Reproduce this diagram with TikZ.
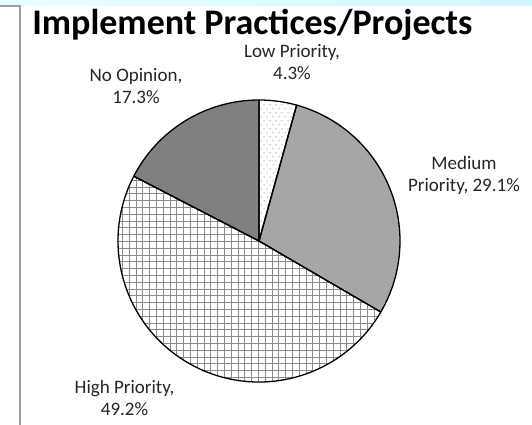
\documentclass[tikz,border=0pt]{standalone}
\usepackage{fontspec}
\setmainfont{Carlito}
\begin{document}
\begin{tikzpicture}[x=1pt,y=1pt,
  lbl/.style={align=center,font=\fontsize{19}{22}\selectfont,text=black!85,inner sep=0pt},
  edge/.style={draw=black,line width=1.3pt,line join=round}]
\useasboundingbox (0,0) rectangle (532,425);
\fill[white] (0,0) rectangle (532,425);
% top band
\shade[left color=blue!5!cyan!8,right color=blue!18!cyan!18] (0,419) rectangle (532,425);
\draw[gray!75,line width=1.5pt] (0,419) -- (20,419) -- (20,0);
% title
\node[font=\fontsize{36}{40}\selectfont\bfseries,inner sep=0pt] (title) at (252.5,400) {Implement Practices/Projects};
% pie
\coordinate (c) at (259,184);
\def\R{141pt}
% Medium
\fill[black!35] (c) -- ++(74.52:\R) arc[start angle=74.52,end angle=-30.24,radius=\R] -- cycle;
% No opinion
\fill[black!50] (c) -- ++(152.64:\R) arc[start angle=152.64,end angle=90,radius=\R] -- cycle;
% High: grid
\begin{scope}
\clip (c) -- ++(-30.24:\R) arc[start angle=-30.24,end angle=-207.36,radius=\R] -- cycle;
\draw[black!45,line width=0.9pt,step=6.8] (110,30) grid (420,340);
\end{scope}
% Low: dots
\begin{scope}
\clip (c) -- ++(90:\R) arc[start angle=90,end angle=74.52,radius=\R] -- cycle;
\foreach \i in {0,...,8}{\foreach \j in {0,...,36}{
  \pgfmathsetmacro{\xx}{258+\i*6+mod(\j,2)*3}
  \pgfmathsetmacro{\yy}{184+\j*4}
  \fill[black!70] (\xx,\yy) circle[radius=0.5pt];}}
\end{scope}
% outlines
\draw[edge] (c) -- ++(90:\R) arc[start angle=90,end angle=74.52,radius=\R] -- cycle;
\draw[edge] (c) -- ++(74.52:\R) arc[start angle=74.52,end angle=-30.24,radius=\R] -- cycle;
\draw[edge] (c) -- ++(-30.24:\R) arc[start angle=-30.24,end angle=-207.36,radius=\R] -- cycle;
\draw[edge] (c) -- ++(152.64:\R) arc[start angle=152.64,end angle=90,radius=\R] -- cycle;
% labels
\node[lbl] (low) at (292,363) {Low Priority,\\4.3\%};
\node[lbl] (noop) at (136,339) {No Opinion,\\17.3\%};
\node[lbl] (med) at (464,250) {Medium\\Priority, 29.1\%};
\node[lbl] (high) at (124.5,27) {High Priority,\\49.2\%};
\end{tikzpicture}
\end{document}
